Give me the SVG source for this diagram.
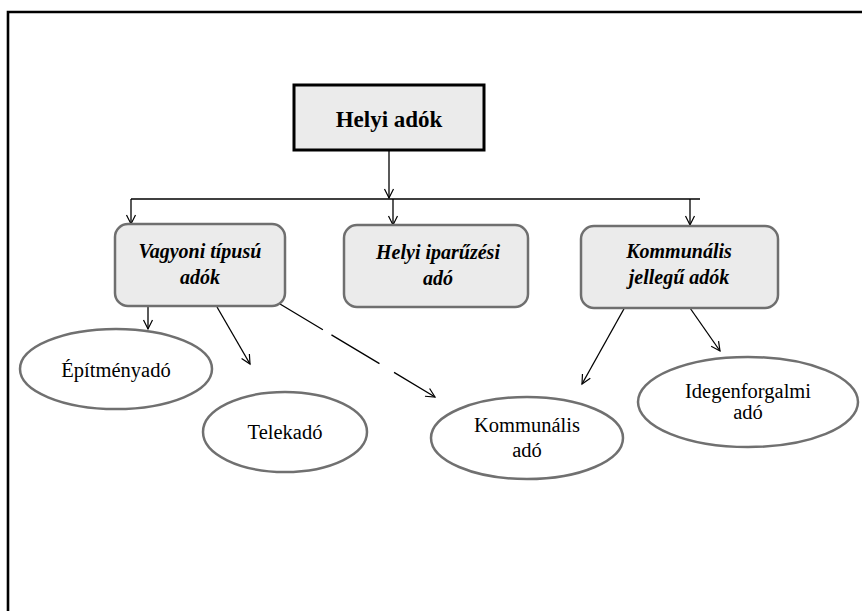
<svg xmlns="http://www.w3.org/2000/svg" width="862" height="611" viewBox="0 0 862 611">
<defs>
<marker id="arr" markerWidth="12" markerHeight="12" refX="10" refY="6" orient="auto" markerUnits="userSpaceOnUse">
<path d="M1,1.5 L10,6 L1,10.5" fill="none" stroke="#000" stroke-width="1.2"/>
</marker>
<style>
.frame{fill:none;stroke:#000;stroke-width:2.6}
.top{fill:#ebebeb;stroke:#000;stroke-width:3}
.box{fill:#ebebeb;stroke:#6f6f6f;stroke-width:2.5}
.ell{fill:#fff;stroke:#707070;stroke-width:2.5}
.ln{fill:none;stroke:#000;stroke-width:1.3}
.arw{fill:none;stroke:#000;stroke-width:1.3;marker-end:url(#arr)}
text{font-family:'Liberation Serif','DejaVu Serif',serif;text-anchor:middle;fill:#000}
.t1{font-weight:bold;font-size:23px}
.t2{font-weight:bold;font-style:italic;font-size:20px}
.t3{font-size:20.5px}
</style>
</defs>
<rect width="862" height="611" fill="#fff"/>
<path class="frame" d="M8,611 L8,12 L862,12"/>

<g id="connectors">
<line class="arw" x1="389" y1="150" x2="389" y2="198"/>
<line class="ln" x1="131" y1="199" x2="700" y2="199"/>
<line class="arw" x1="131" y1="199" x2="131" y2="224"/>
<line class="arw" x1="393" y1="199" x2="393" y2="225"/>
<line class="arw" x1="690" y1="199" x2="690" y2="225"/>
<line class="arw" x1="148" y1="306" x2="148" y2="329"/>
<line class="arw" x1="217" y1="307" x2="250" y2="364"/>
<line class="arw" x1="280" y1="304" x2="435" y2="397" stroke-dasharray="50 10 56 17"/>
<line class="arw" x1="625" y1="307" x2="582" y2="384"/>
<line class="arw" x1="690" y1="308" x2="720" y2="351"/>
</g>

<g id="helyi-adok">
<rect class="top" x="294" y="85" width="190" height="65"/>
<text class="t1" x="389" y="127" font-family="Liberation Serif, serif">Helyi adók</text>
</g>

<g id="vagyoni">
<rect class="box" x="115" y="224" width="170" height="82" rx="13"/>
<text class="t2" x="200" y="258">Vagyoni típusú</text>
<text class="t2" x="200" y="284">adók</text>
</g>

<g id="iparuzesi">
<rect class="box" x="344" y="225" width="184" height="82" rx="13"/>
<text class="t2" x="438" y="259">Helyi iparűzési</text>
<text class="t2" x="438" y="285">adó</text>
</g>

<g id="kommunalis-jellegu">
<rect class="box" x="581" y="226" width="197" height="82" rx="13"/>
<text class="t2" x="679" y="258">Kommunális</text>
<text class="t2" x="679" y="284">jellegű adók</text>
</g>

<g id="epitmenyado">
<ellipse class="ell" cx="116" cy="369" rx="96" ry="40"/>
<text class="t3" x="116" y="377">Építményadó</text>
</g>

<g id="telekado">
<ellipse class="ell" cx="285" cy="432" rx="82" ry="40"/>
<text class="t3" x="285" y="439">Telekadó</text>
</g>

<g id="kommunalis-ado">
<ellipse class="ell" cx="527" cy="438" rx="96" ry="41"/>
<text class="t3" x="527" y="432">Kommunális</text>
<text class="t3" x="527" y="457">adó</text>
</g>

<g id="idegenforgalmi">
<ellipse class="ell" cx="748" cy="402" rx="110" ry="45"/>
<text class="t3" x="748" y="398">Idegenforgalmi</text>
<text class="t3" x="748" y="419">adó</text>
</g>
</svg>
